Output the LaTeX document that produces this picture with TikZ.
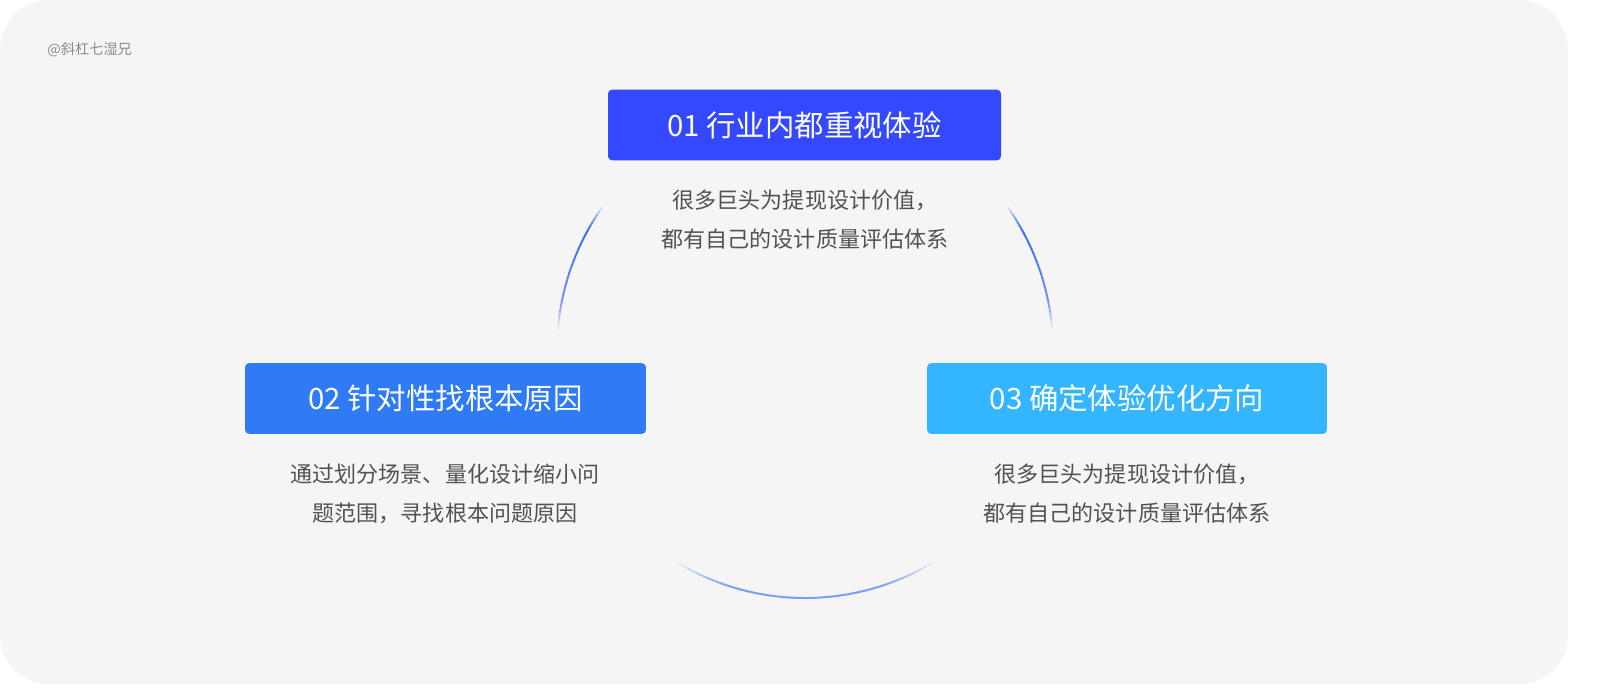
\documentclass[tikz,border=0pt]{standalone}
\usepackage{fontspec}
\setmainfont{Noto Sans CJK SC}
\usetikzlibrary{calc}
\begin{document}
\begin{tikzpicture}[x=1.0204pt,y=-1.0204pt,
  box/.style={rounded corners=4pt,minimum width=#1,minimum height=72pt,text=white,font=\fontsize{30}{34}\selectfont},
  desc/.style={text=black!68,font=\fontsize{22.5}{40}\selectfont,align=center}]
\useasboundingbox (0,0) rectangle (1600,698);
\fill[white] (0,0) rectangle (1600,698);
\fill[black!4,rounded corners=50pt] (0,0) rectangle (1568,684);
\node[anchor=west,text=black!45,font=\fontsize{14.5}{16}\selectfont] (wm) at (44,50) {@斜杠七湿兄};
% arcs
\coordinate (c) at (805,350);
\foreach \i in {0,...,29}{
  \pgfmathsetmacro{\a}{145+\i}\pgfmathsetmacro{\op}{min(1,1.4*sin(\i/29*180)+0.15)*(1-0.5*\i/29)}
  \draw[line width=2pt,color={rgb,255:red,40;green,95;blue,232},opacity=\op] ($(c)+(\a:248 and -248)$) arc[start angle=-\a,end angle=-\a-1.1,radius=248];
  \pgfmathsetmacro{\b}{35-\i}
  \draw[line width=2pt,color={rgb,255:red,40;green,95;blue,232},opacity=\op] ($(c)+(\b:248 and -248)$) arc[start angle=-\b,end angle=-\b+1.1,radius=248];
}
\foreach \i in {0,...,63}{
  \pgfmathsetmacro{\a}{238+\i}\pgfmathsetmacro{\op}{min(1,1.5*sin(\i/63*180))}
  \draw[line width=2pt,color={rgb,255:red,120;green,160;blue,240},opacity=\op] ($(c)+(\a:248 and -248)$) arc[start angle=-\a,end angle=-\a-1.1,radius=248];
}
% boxes
\node[box=401pt,fill={rgb,255:red,52;green,72;blue,255}] (b1) at (804.5,125) {01 行业内都重视体验};
\node[box=409pt,fill={rgb,255:red,47;green,123;blue,245}] (b2) at (445.5,398.5) {02 针对性找根本原因};
\node[box=408pt,fill={rgb,255:red,51;green,181;blue,255}] (b3) at (1127,398.5) {03 确定体验优化方向};
\node[desc] (d1) at (805,220) {很多巨头为提现设计价值，\\都有自己的设计质量评估体系};
\node[desc] (d2) at (445,494) {通过划分场景、量化设计缩小问\\题范围，寻找根本问题原因};
\node[desc] (d3) at (1127,494) {很多巨头为提现设计价值，\\都有自己的设计质量评估体系};
\end{tikzpicture}
\end{document}
